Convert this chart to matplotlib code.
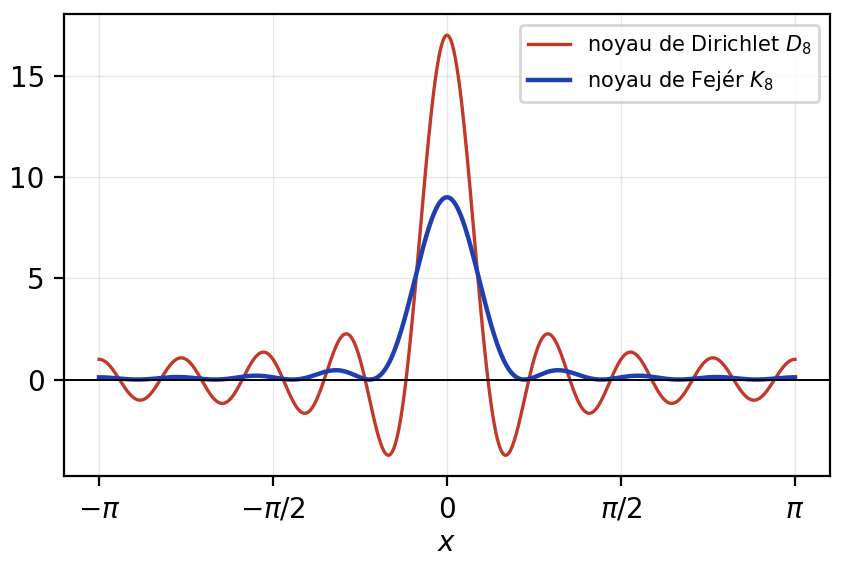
import numpy as np
import matplotlib
matplotlib.use("Agg")
import matplotlib.pyplot as plt

N = 8
x_ticks = [-np.pi, -np.pi/2, 0, np.pi/2, np.pi]
x_tick_labels = [r"$-\pi$", r"$-\pi/2$", "0", r"$\pi/2$", r"$\pi$"]
y_ticks = [0, 5, 10, 15]

x = np.linspace(-np.pi, np.pi, 4001)
x = np.where(np.abs(x) < 1e-9, 1e-9, x)
D = np.sin((N + 0.5) * x) / np.sin(x / 2)
K = (np.sin((N + 1) * x / 2) / np.sin(x / 2)) ** 2 / (N + 1)

fig, ax = plt.subplots(figsize=(4.225, 2.845), dpi=200)
ax.plot(x, D, color="#c0392b", lw=1.2, label=r"noyau de Dirichlet $D_{8}$")
ax.plot(x, K, color="#1f3fb0", lw=1.6, label=r"noyau de Fejér $K_{8}$")
ax.axhline(0, color="black", lw=0.7)
ax.set_xticks(x_ticks)
ax.set_xticklabels(x_tick_labels)
ax.set_yticks(y_ticks)
ax.set_xlabel(r"$x$", labelpad=2)
ax.grid(True, alpha=0.3, lw=0.5)
ax.legend(loc="upper right", fontsize=7.5)
fig.subplots_adjust(left=0.076, right=0.982, top=0.975, bottom=0.163)
fig.savefig("out.png", dpi=200)
